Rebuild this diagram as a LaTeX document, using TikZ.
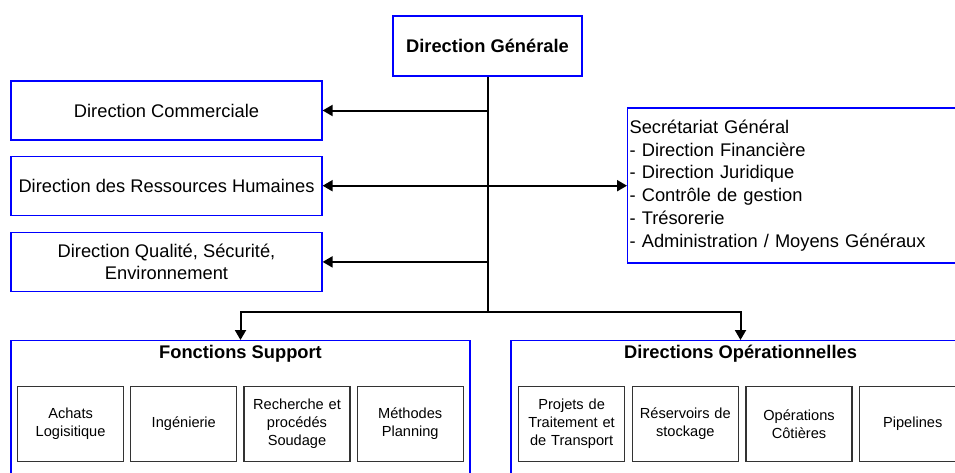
\documentclass[tikz,border=0pt]{standalone}
\usepackage{fontspec}
\setmainfont{Liberation Sans}
\usetikzlibrary{arrows.meta, positioning}
\tikzset{
  dir/.style  ={rectangle, draw=blue, line width=1.2pt, align=center, inner sep=2pt,
                font=\fontsize{18.3}{22.7}\selectfont},
  title/.style={font=\fontsize{18.3}{22.7}\selectfont\bfseries, inner sep=2pt},
  grp/.style  ={rectangle, draw=blue, line width=1.2pt, minimum width=459pt,
                minimum height=150pt, anchor=north},
  unit/.style ={rectangle, draw=black!80, line width=1.2pt, minimum width=106pt,
                minimum height=75pt, text width=100pt, align=center, inner sep=0pt,
                font=\fontsize{14.6}{18}\selectfont},
  link/.style ={-{Triangle[length=10pt, width=11pt]}, line width=2pt},
  both/.style ={{Triangle[length=10pt, width=11pt]}-{Triangle[length=10pt, width=11pt]}, line width=2pt},
}

\begin{document}
\begin{tikzpicture}[x=1pt, y=-1pt]

  \clip (0,0) rectangle (955,472);

  % top
  \node[dir, title, draw=blue, minimum width=189pt, minimum height=60pt] (dg) at (487.5,46) {Direction Générale};

  % left column
  \node[dir, minimum width=311pt, minimum height=59pt] (com) at (166.5,110.5) {Direction Commerciale};
  \node[dir, minimum width=311pt, minimum height=59pt, below=15pt of com] (rh) {Direction des Ressources Humaines};
  \node[dir, minimum width=311pt, minimum height=59pt, below=16pt of rh] (qse) {Direction Qualité, Sécurité,\\Environnement};

  % right
  \node[dir, anchor=west, align=left, text width=340pt, minimum height=155pt] (sg) at (627,185.5)
    {Secrétariat Général\\- Direction Financière\\- Direction Juridique\\- Contrôle de gestion\\- Trésorerie\\- Administration / Moyens Généraux};

  % groups
  \node[grp] (fs) at (240.5,340) {};
  \node[grp] (ops) at (740.5,340) {};
  \node[title, below=3pt of fs.north] (fst) {Fonctions Support};
  \node[title, below=3pt of ops.north] (opst) {Directions Opérationnelles};

  \node[unit, anchor=north west] (achat) at (17,386) {Achats\\Logisitique};
  \node[unit, right=6pt of achat] (inge) {Ingénierie};
  \node[unit, right=6pt of inge] (rech) {Recherche et\\procédés\\Soudage};
  \node[unit, right=6pt of rech] (meth) {Méthodes\\Planning};

  \node[unit, anchor=north west] (proj) at (518,386) {Projets de\\Traitement et\\de Transport};
  \node[unit, right=6.5pt of proj] (res) {Réservoirs de\\stockage};
  \node[unit, right=6.5pt of res] (cot) {Opérations\\Côtières};
  \node[unit, right=6.5pt of cot] (pipe) {Pipelines};

  % links
  \coordinate (hub) at (487.5,312);
  \draw[line width=2pt] (dg.south) -- (hub);
  \draw[link] (dg.south |- com.east) -- (com.east);
  \draw[both] (rh.east) -- (rh.east -| sg.west);
  \draw[link] (dg.south |- qse.east) -- (qse.east);
  \draw[link] (hub) -| (fs.north);
  \draw[link] (hub) -| (ops.north);

\end{tikzpicture}
\end{document}
